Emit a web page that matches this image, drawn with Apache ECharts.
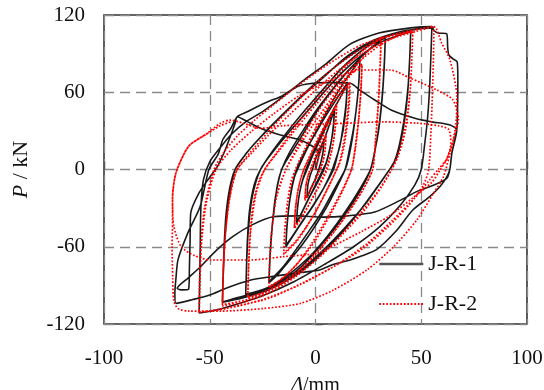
<!DOCTYPE html>
<html>
<head>
<meta charset="utf-8">
<script src="https://cdn.jsdelivr.net/npm/echarts@6/dist/echarts.min.js"></script>
<style>
  html, body { margin: 0; padding: 0; background: #fff; }
  #chart { width: 544px; height: 390px; }
</style>
</head>
<body>
<div id="chart"></div>
<script>
// axis ticks
const xTicks = [-100, -50, 0, 50, 100];
const yTicks = [-120, -60, 0, 60, 120];

// J-R-1 hysteresis, one array per load step, [displacement mm, load kN]
const jr1Cycle1 = [[0,0],[1.5,10],[3,18],[4,24],[3.6,14],[2.6,6],[1.5,0],[0,-7],[-2,-14],[-4,-22],[-3.6,-12],[-2.6,-5],[-1.5,0],[0,8],[2,16],[4,23]];
const jr1Cycle2 = [[4,23],[6,32],[8,42],[9,48],[8.5,35],[7.5,22],[6,10],[4,0],[1,-10],[-3,-22],[-6,-32],[-9,-42],[-8.5,-30],[-7.5,-18],[-6,-8],[-4,0],[-1,12],[3,26],[6,37],[9,47],[8.4,32],[7,18],[5,5],[3.5,0],[0,-12],[-4,-25],[-7,-35],[-9,-41],[-8.4,-28],[-7,-14],[-4.5,0]];
const jr1Cycle3 = [[-4.5,0],[-1,14],[4,32],[9,48],[13,60],[15,68],[14.5,52],[13.2,35],[11.5,18],[9,5],[8,0],[4,-14],[-1,-28],[-6,-40],[-10,-50],[-14,-60],[-13.5,-45],[-12.5,-28],[-11,-12],[-9,0],[-5,14],[0,28],[5,42],[10,55],[15,67],[14.4,48],[13,30],[10.5,12],[8.5,0],[4,-14],[-2,-30],[-7,-42],[-11,-52],[-14,-59],[-13.4,-42],[-12,-22],[-10,-6],[-8.5,0]];
const jr1Cycle4 = [[-8.5,0],[-4,16],[1,32],[7,50],[12,64],[17,76],[21,85],[20.5,68],[19.5,50],[18,32],[16,15],[14,0],[10,-14],[5,-30],[-1,-46],[-7,-60],[-13,-72],[-18,-82],[-22,-88],[-21.6,-70],[-20.8,-50],[-19.5,-30],[-18,-12],[-16,0],[-12,14],[-6,30],[0,45],[6,58],[12,70],[17,79],[21,85],[20.4,66],[19.2,46],[17.5,25],[15.5,8],[14,0],[9,-15],[3,-33],[-4,-50],[-10,-64],[-16,-77],[-22,-87],[-21.5,-68],[-20.5,-45],[-19,-22],[-16,0]];
const jr1Cycle5 = [[-16,0],[-11,14],[-5,30],[1,46],[8,62],[15,76],[22,88],[28,97],[33,103],[32.6,85],[31.8,62],[30.5,40],[28.5,18],[26,0],[22,-14],[16,-30],[9,-46],[1,-62],[-7,-76],[-16,-87],[-25,-94],[-33,-98],[-32.7,-80],[-32.2,-55],[-31.2,-32],[-29,-12],[-26,0],[-20,15],[-13,30],[-5,46],[4,63],[12,78],[20,90],[27,98],[33,102],[32.5,80],[31.5,55],[29.8,30],[27.5,10],[26,0],[21,-15],[14,-33],[6,-51],[-3,-68],[-13,-82],[-23,-92],[-33,-97],[-32.6,-75],[-31.8,-48],[-30,-22],[-26,0]];
const jr1Cycle6 = [[-26,0],[-20,14],[-13,28],[-5,43],[4,60],[13,76],[22,89],[31,99],[39,104],[45,107],[44.6,88],[43.8,65],[42.2,42],[39.5,18],[37,5],[35,0],[30,-12],[23,-28],[14,-45],[4,-62],[-7,-78],[-18,-89],[-29,-96],[-38,-100],[-44,-103],[-43.7,-85],[-43.2,-60],[-42.3,-35],[-40.5,-14],[-38,0],[-32,14],[-25,27],[-16,42],[-6,58],[5,74],[16,88],[27,99],[37,105],[45,107],[44.5,85],[43.5,58],[41.5,32],[38.5,10],[35,0],[29,-14],[21,-32],[11,-52],[0,-70],[-11,-84],[-23,-94],[-35,-100],[-44,-103],[-43.6,-80],[-42.8,-52],[-41.2,-25],[-38,0]];
const jr1Cycle7 = [[-38,0],[-33,12],[-26,25],[-17,40],[-7,56],[4,72],[15,88],[27,100],[40,107],[50,109.5],[55,110],[54.6,90],[54,65],[53,40],[51.5,18],[50,0],[47,-12],[40,-28],[30,-45],[18,-60],[5,-73],[-10,-87],[-25,-98],[-40,-106],[-48,-109.5],[-55,-111.5],[-54.8,-90],[-54.5,-60],[-54.2,-30],[-53,-8],[-50,6],[-45,17],[-40,27],[-33,37],[-25,45],[-15,57],[-5,70],[5,82],[16,97],[30,106],[45,110],[55,111]];
const jr1Cycle8 = [[55,111],[56,108],[58,106],[62,105.5],[62.5,95],[63,89],[65,86],[67,83.5],[67.3,70],[67.2,50],[66.8,31],[64.5,13],[63.5,0],[62,-6],[59,-13],[54,-21],[46,-31.5],[38,-48],[29,-62],[22,-67],[16,-70.5],[8,-74],[2,-78],[-7,-80],[-20,-83],[-31,-86],[-42,-92],[-50,-97.5],[-58,-101],[-66,-104]];
const jr1Cycle9 = [[-66,-104],[-66.5,-96],[-66,-85],[-65,-70],[-60.3,-49],[-54.5,-28.5],[-50.4,0],[-46,12],[-43.8,23.3],[-40,32],[-37,41],[-32,45],[-27.6,48.8],[-22,53],[-16.6,56.5],[-8.8,64.3],[-4,66.4],[5,67.5],[16.4,67],[21,61.7],[28,54],[36,46],[47,39.8],[55,37],[63.6,34.6],[66.8,30.6],[64.5,13],[63.5,0],[62,-7],[56,-12],[48,-17],[40,-24],[28,-33],[15,-36],[3,-37],[-8,-36],[-20,-36.7],[-30,-43],[-39,-52],[-47,-63],[-54.4,-75.5],[-60,-84],[-65.4,-92.3],[-63,-93.5],[-60,-93],[-59.6,-75],[-59.3,-55],[-59,-34],[-55,-18],[-50,-6],[-46.5,2],[-43,14],[-40.3,25.5],[-38,36],[-37,41],[-32,37],[-26,32],[-16.6,26.8],[-7.2,23],[-1,17.7],[2,13]];

// J-R-2 hysteresis
const jr2Cycle1 = [[0,0],[2,12],[4,22],[5,27],[4.5,15],[3.5,6],[2,0],[0,-8],[-2.5,-16],[-5,-24],[-4.5,-13],[-3.5,-5],[-2,0],[0,8],[2.5,17],[5,26],[4.4,13],[3,3],[1.5,-3],[-1,-11],[-3,-18],[-5,-23],[-4.4,-11],[-3,-2],[-2,2]];
const jr2Cycle2 = [[-2,2],[1,15],[4,28],[7,40],[10,50],[9.5,36],[8.5,22],[7,10],[5.5,0],[2,-12],[-2,-24],[-6,-36],[-10,-46],[-9.5,-32],[-8.5,-18],[-7,-7],[-5.5,0],[-2,12],[2,25],[6,38],[10,49],[9.4,33],[8,17],[6,5],[5,0],[1,-14],[-3,-27],[-7,-38],[-10,-45],[-9.4,-29],[-8,-14],[-5.5,0]];
const jr2Cycle3 = [[-5.5,0],[-2,13],[3,30],[8,45],[12.5,58],[16.4,68],[16,52],[15,35],[13.5,18],[11.5,5],[10,0],[6,-14],[1,-30],[-4,-44],[-9,-56],[-15,-66],[-14.6,-50],[-13.6,-32],[-12,-15],[-9.5,0],[-5,15],[0,30],[5,44],[10,56],[16,67],[15.4,48],[14,28],[12,10],[10,0],[5,-17],[0,-33],[-5,-46],[-10,-57],[-15,-65],[-14.5,-46],[-13.2,-25],[-11.5,-9],[-9.5,0]];
const jr2Cycle4 = [[-9.5,0],[-5,16],[0,32],[6,49],[12,63],[17,74],[22,82],[21.5,62],[20.5,40],[19,18],[17,0],[13,-16],[7,-35],[0,-55],[-7,-70],[-14,-82],[-22,-92],[-21.6,-70],[-20.5,-45],[-18.5,-22],[-14,0],[-9,16],[-3,34],[4,52],[11,66],[17,75],[22,81],[21.4,60],[20.2,36],[18.5,14],[17,0],[12,-18],[5,-39],[-2,-58],[-9,-74],[-16,-85],[-22,-91],[-21.5,-66],[-20.2,-40],[-18,-18],[-14,0]];
const jr2Cycle5 = [[-14,0],[-8,17],[-1,35],[7,54],[14,70],[21,84],[27,96],[31,103],[30.6,82],[30,58],[29,34],[28,14],[27,0],[23,-14],[16,-32],[8,-50],[-1,-68],[-10,-82],[-20,-92],[-32,-100],[-31.7,-78],[-31,-52],[-29.5,-27],[-27,-10],[-24,0],[-18,14],[-10,32],[-2,50],[7,67],[15,81],[23,93],[31,102],[30.5,78],[29.6,50],[28.4,24],[27,0],[22,-17],[14,-37],[5,-56],[-5,-74],[-15,-87],[-25,-96],[-32,-99],[-31.6,-74],[-30.5,-45],[-28,-18],[-24,0]];
const jr2Cycle6 = [[-24,0],[-17,15],[-9,32],[0,50],[10,68],[20,83],[30,96],[39,104],[46,108],[45.6,88],[44.8,62],[43,38],[40,16],[36,0],[31,-14],[23,-32],[13,-50],[2,-68],[-10,-84],[-22,-96],[-34,-103],[-44,-106],[-43.7,-84],[-43,-58],[-41.5,-32],[-39.5,-12],[-37,0],[-31,13],[-23,28],[-14,44],[-3,62],[8,78],[20,92],[32,102],[46,107],[45.5,84],[44.5,56],[42.5,30],[39,10],[36,0],[29,-18],[19,-38],[8,-58],[-4,-76],[-17,-90],[-30,-100],[-44,-105],[-43.6,-80],[-42.6,-50],[-40.5,-22],[-37,0]];
const jr2Cycle7 = [[-37,0],[-30,13],[-22,27],[-12,43],[-1,60],[10,76],[22,90],[35,101],[47,107],[56,111],[55.8,90],[55.3,60],[54.6,30],[53.5,0],[51,-12],[44,-28],[34,-45],[22,-62],[8,-76],[-8,-90],[-25,-101],[-42,-108],[-55,-111],[-54.8,-88],[-54.2,-60],[-52.5,-30],[-48,0],[-43,14],[-37,26],[-29,38],[-20,50],[-10,63],[0,75],[10,86],[22,97],[35,104],[47,108.5],[56,111]];
const jr2Cycle8 = [[56,111],[59.7,98],[63.6,85],[66.8,56.5],[66.6,40],[65,22],[62,8],[58,0],[54,-8],[47,-22],[36,-40],[24,-58],[10,-74],[-6,-88],[-22,-100],[-40,-107],[-55,-111],[-54.6,-85],[-53.8,-55],[-51.5,-25],[-47,0],[-40,15],[-30,30],[-20,43],[-8,57],[5,68],[14,74],[21,77.3],[35.3,77.3],[44.7,71],[57.5,61.7],[65,54],[67.6,38.4],[66,28],[63.6,12.6],[60.5,-5.6],[55.8,-18.5],[47.9,-39.2],[36.9,-60],[24.3,-78],[8.5,-93.6],[-7.2,-104],[-25,-108],[-45,-110],[-60,-110],[-65,-108],[-67,-102]];
const jr2Cycle9 = [[-67,-102],[-67.5,-85],[-67.8,-60],[-67.6,-40],[-67.6,-23],[-66,-2.6],[-60,18],[-51.3,28],[-45,35.9],[-40.3,38.4],[-34,35.9],[-26,32],[-15,34],[0,35],[15,36],[32,37],[48,36],[58,34],[63,31],[64,20],[62,8],[59,0],[55,-10],[46,-22],[35,-36],[22,-48],[10,-58],[0.8,-65],[-15.2,-67.7],[-30.8,-70.3],[-49.7,-70.3],[-57,-67],[-63.5,-60],[-67,-44],[-67.6,-23],[-66,-3],[-60,18],[-52,27],[-45,34],[-40,37]];

const jr1 = [].concat(jr1Cycle1, jr1Cycle2, jr1Cycle3, jr1Cycle4, jr1Cycle5, jr1Cycle6, jr1Cycle7, jr1Cycle8, jr1Cycle9);
const jr2 = [].concat(jr2Cycle1, jr2Cycle2, jr2Cycle3, jr2Cycle4, jr2Cycle5, jr2Cycle6, jr2Cycle7, jr2Cycle8, jr2Cycle9);

const FONT = 'Liberation Serif, Times New Roman, serif';

const chart = echarts.init(document.getElementById('chart'), null, { renderer: 'canvas' });

const gridLine = { show: true, lineStyle: { color: '#8a8a8a', width: 1.3, type: [10, 6] } };
const tick = { show: true, inside: true, length: 8, lineStyle: { color: '#555', width: 1.3 } };

chart.setOption({
  animation: false,
  backgroundColor: '#fff',
  grid: {
    left: 104, right: 17, top: 15, bottom: 66,
    outerBoundsMode: 'none',
    containLabel: false,
    show: true, borderColor: '#333', borderWidth: 1.6, backgroundColor: 'transparent'
  },
  legend: {
    orient: 'vertical',
    left: 373,
    top: 248,
    itemWidth: 44,
    itemHeight: 14,
    itemGap: 18,
    data: [
      { name: 'J-R-1', lineStyle: { width: 2.6, color: '#555' } },
      { name: 'J-R-2' }
    ],
    itemStyle: { opacity: 0 },
    textStyle: { fontFamily: FONT, fontSize: 22, color: '#111' }
  },
  xAxis: {
    type: 'value',
    min: xTicks[0], max: xTicks[xTicks.length - 1], interval: 50,
    name: '{i|Δ}/mm',
    nameLocation: 'middle',
    nameGap: 52,
    nameTextStyle: {
      fontFamily: FONT, fontSize: 20, color: '#111',
      rich: { i: { fontFamily: FONT, fontSize: 20, fontStyle: 'italic', color: '#111' } }
    },
    axisLine: { show: false },
    axisTick: tick,
    splitLine: gridLine,
    axisLabel: { fontFamily: FONT, fontSize: 21, color: '#111', margin: 24 }
  },
  yAxis: {
    type: 'value',
    min: yTicks[0], max: yTicks[yTicks.length - 1], interval: 60,
    name: '{i|P} / kN',
    nameLocation: 'middle',
    nameGap: 72,
    nameTextStyle: {
      fontFamily: FONT, fontSize: 22, color: '#111',
      rich: { i: { fontFamily: FONT, fontSize: 22, fontStyle: 'italic', color: '#111' } }
    },
    axisLine: { show: false },
    axisTick: tick,
    splitLine: gridLine,
    axisLabel: { fontFamily: FONT, fontSize: 21, color: '#111', margin: 19 }
  },
  series: [
    {
      name: 'J-R-1',
      type: 'line',
      data: jr1,
      symbol: 'none',
      showSymbol: false,
      smooth: 0.25,
      lineStyle: { color: '#1a1a1a', width: 1.6 },
      itemStyle: { color: '#1a1a1a' }
    },
    {
      name: 'J-R-2',
      type: 'line',
      data: jr2,
      symbol: 'none',
      showSymbol: false,
      smooth: 0.25,
      lineStyle: { color: '#ff0000', width: 1.7, type: [1.7, 1.8] },
      itemStyle: { color: '#ff0000' }
    }
  ]
});
</script>
</body>
</html>
